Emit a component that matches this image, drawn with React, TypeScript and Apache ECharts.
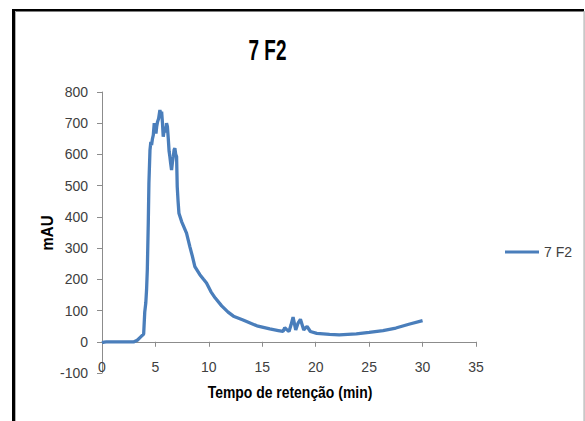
import React, { useEffect, useRef } from "react";
import * as echarts from "echarts";

const seriesName = "7 F2";
const chartTitle = "7 F2";
const xAxisTitle = "Tempo de retenção (min)";
const yAxisTitle = "mAU";

const times = [0, 0.2, 0.4, 1, 2, 3, 3.3, 3.6, 3.9, 4.0, 4.1, 4.17, 4.24, 4.33, 4.39, 4.49, 4.57, 4.64, 4.72, 4.8, 4.89, 4.97, 5.05, 5.12, 5.2, 5.3, 5.42, 5.5, 5.58, 5.66, 5.73, 5.81, 5.89, 5.96, 6.04, 6.12, 6.2, 6.28, 6.35, 6.43, 6.51, 6.59, 6.67, 6.75, 6.82, 6.9, 6.98, 7.04, 7.12, 7.2, 7.45, 7.7, 7.91, 8.22, 8.45, 8.69, 9.16, 9.5, 9.78, 10.2, 10.6, 11.2, 11.8, 12.3, 13.2, 14.5, 15.7, 16.5, 16.95, 17.1, 17.25, 17.5, 17.7, 17.88, 18.13, 18.35, 18.57, 18.88, 19.05, 19.19, 19.5, 20.1, 21.3, 22.2, 23.8, 25.0, 26.3, 27.5, 28.8, 30];

const absorbance = [-3, -1, 0, 0, 0, 0, 5, 15, 25, 95, 125, 166, 230, 379, 507, 614, 640, 630, 650, 662, 700, 690, 667, 690, 705, 715, 742, 730, 737, 700, 657, 675, 689, 670, 700, 690, 652, 610, 593, 570, 550, 575, 593, 615, 620, 600, 593, 497, 450, 412, 385, 365, 348, 305, 275, 241, 215, 200, 188, 160, 140, 115, 95, 82, 70, 51, 41, 36, 33, 45, 40, 33, 55, 79, 38, 60, 72, 38, 45, 49, 33, 27, 24, 22, 25, 30, 36, 44, 57, 68];

export default function App() {
  const ref = useRef<HTMLDivElement>(null);
  useEffect(() => {
    if (!ref.current) return;
    const chart = echarts.init(ref.current, null, { renderer: "svg" });
    const data = times.map((t, i) => [t, absorbance[i]]);
    const axisColor = "#8c8c8c";
    const labelStyle = {
      color: "#404040",
      fontFamily: "Liberation Sans, Arial, sans-serif",
      fontSize: 14,
    };
    chart.setOption({
      animation: false,
      backgroundColor: "#ffffff",
      grid: { left: 102, right: 109, top: 92, bottom: 48, containLabel: false },
      legend: {
        left: 500,
        top: 240,
        icon: "rect",
        itemWidth: 34,
        itemHeight: 3,
        textStyle: { ...labelStyle, color: "#404040" },
        data: [seriesName],
      },
      xAxis: {
        type: "value",
        min: 0,
        max: 35,
        interval: 5,
        axisLine: { onZero: true, lineStyle: { color: axisColor, width: 1 } },
        axisTick: { show: true, length: 5, lineStyle: { color: axisColor } },
        axisLabel: { ...labelStyle, margin: -13 },
        splitLine: { show: false },
      },
      yAxis: {
        type: "value",
        min: -100,
        max: 800,
        interval: 100,
        axisLine: { show: true, lineStyle: { color: axisColor, width: 1 } },
        axisTick: { show: true, length: 5, lineStyle: { color: axisColor } },
        axisLabel: { ...labelStyle, margin: 14 },
        splitLine: { show: false },
      },
      series: [
        {
          name: seriesName,
          type: "line",
          data,
          showSymbol: false,
          symbol: "none",
          lineStyle: { color: "#4a7ebb", width: 3.3 },
          itemStyle: { color: "#4a7ebb" },
        },
      ],
      graphic: [
        { type: "rect", shape: { x: 12, y: 9, width: 572, height: 2.5 }, style: { fill: "#000" } },
        { type: "rect", shape: { x: 12, y: 9, width: 3, height: 412 }, style: { fill: "#000" } },
        { type: "rect", shape: { x: 15, y: 11, width: 1, height: 410 }, style: { fill: "#b0b0b0" } },
        { type: "rect", shape: { x: 583.5, y: 11, width: 1.2, height: 410 }, style: { fill: "#b0b0b0" } },
        {
          type: "text",
          x: 267.5,
          y: 49,
          scaleX: 0.63,
          style: {
            text: chartTitle,
            font: "bold 30px Liberation Sans, Arial, sans-serif",
            fill: "#000",
            textAlign: "center",
            textVerticalAlign: "middle",
          },
        },
        {
          type: "text",
          x: 290,
          y: 392,
          scaleX: 0.82,
          style: {
            text: xAxisTitle,
            font: "bold 17px Liberation Sans, Arial, sans-serif",
            fill: "#000",
            textAlign: "center",
            textVerticalAlign: "middle",
          },
        },
        {
          type: "text",
          x: 47,
          y: 233,
          rotation: Math.PI / 2,
          scaleX: 0.88,
          style: {
            text: yAxisTitle,
            font: "bold 17px Liberation Sans, Arial, sans-serif",
            fill: "#000",
            textAlign: "center",
            textVerticalAlign: "middle",
          },
        },
      ],
    });
    return () => chart.dispose();
  }, []);
  return (
    <div
      ref={ref}
      style={{ position: "fixed", left: 0, top: 0, width: 585, height: 421 }}
    />
  );
}
